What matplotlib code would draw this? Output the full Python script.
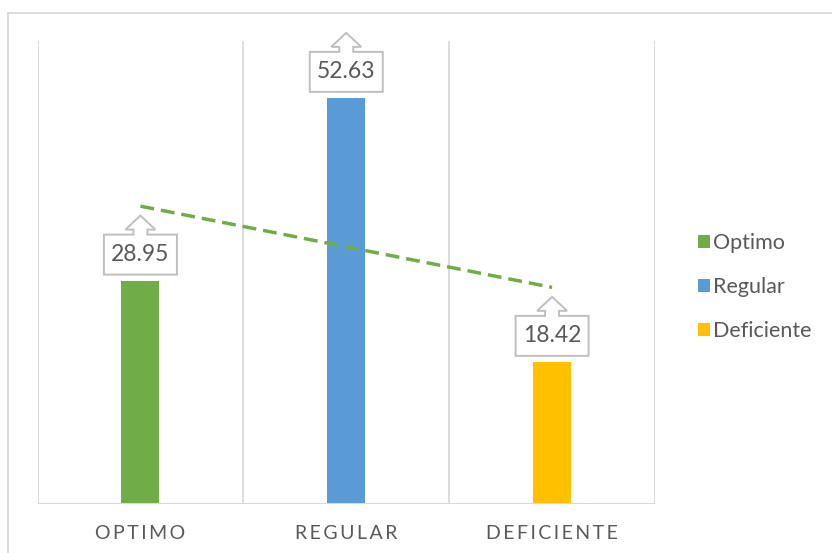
import numpy as np
import matplotlib
matplotlib.use("Agg")
import matplotlib.pyplot as plt
import matplotlib.transforms as mtransforms
from matplotlib.patches import Polygon, Patch
from matplotlib.lines import Line2D

plt.rcParams['font.family'] = ['Lato', 'DejaVu Sans']

# data
categorias = ["Optimo", "Regular", "Deficiente"]
etiquetas = ["OPTIMO", "REGULAR", "DEFICIENTE"]
valores = [28.95, 52.63, 18.42]
colores = ["#70AD47", "#5B9BD5", "#FFC000"]

gris_texto = "#595959"
gris_linea = "#D9D9D9"

fig = plt.figure(figsize=(8.32, 5.53), dpi=100)
ax = fig.add_axes([37.5 / 832, 49 / 553, (655 - 37.5) / 832, (504 - 41) / 553])

x = np.arange(len(valores))
ax.bar(x, valores, width=0.185, color=colores, zorder=2)

ax.set_xlim(-0.5, 2.5)
ax.set_ylim(0, 60)

# vertical separators between categories
for b in np.arange(-0.5, 3, 1):
    ax.axvline(b, color=gris_linea, lw=1.3, zorder=1)
for s in ax.spines.values():
    s.set_visible(False)
ax.axhline(0, color=gris_linea, lw=1.5, zorder=3)

ax.set_yticks([])
ax.set_xticks(x)
ax.set_xticklabels(["\u2009".join(e) for e in etiquetas], color=gris_texto, fontsize=14)
ax.tick_params(axis='x', length=0, pad=15)

# linear trend
p = np.polyfit(x, valores, 1)
ax.plot(x[[0, -1]], np.polyval(p, x[[0, -1]]), color="#70AD47", lw=2.5,
        dashes=(4, 2), zorder=4)

# arrow-shaped callouts above each bar (pixel offsets)
forma = [(-36.5, 6), (36.5, 6), (36.5, 46), (7, 46), (7, 51), (15, 51), (0, 65),
         (-15, 51), (-7, 51), (-7, 46), (-36.5, 46)]
for xi, v in zip(x, valores):
    tr = (mtransforms.Affine2D().scale(1 / 100) + fig.dpi_scale_trans
          + mtransforms.ScaledTranslation(xi, v, ax.transData))
    ax.add_patch(Polygon(forma, closed=True, transform=tr, facecolor="white",
                         edgecolor="#BFBFBF", lw=1.4, zorder=5, clip_on=False))
    ax.text(0, 26, f"{v:.2f}", transform=tr, ha="center", va="center",
            fontsize=16.5, color=gris_texto, zorder=6)

# legend
handles = [Patch(facecolor=c) for c in colores]
fig.legend(handles, categorias, loc="center left", bbox_to_anchor=(679 / 832, 1 - 287 / 553),
           frameon=False, fontsize=15.5, labelcolor=gris_texto, handlelength=0.55,
           handleheight=0.55, handletextpad=0.15, labelspacing=1.1)

# chart area border
fig.add_artist(Line2D([8 / 832, 8 / 832], [0, 1 - 12.5 / 553], color=gris_linea,
                      lw=1.3, transform=fig.transFigure))
fig.add_artist(Line2D([8 / 832, 1], [1 - 12.5 / 553, 1 - 12.5 / 553], color=gris_linea,
                      lw=1.3, transform=fig.transFigure))

fig.savefig("out.png", dpi=100)
